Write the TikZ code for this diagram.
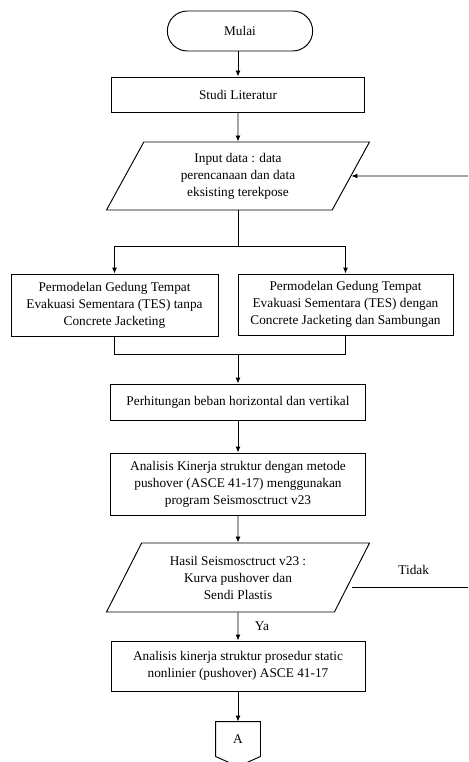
\documentclass[tikz,border=0pt]{standalone}
\usepackage{fontspec}
\setmainfont{Liberation Serif}
\usetikzlibrary{shapes.geometric,shapes.misc,arrows.meta}

\begin{document}
\begin{tikzpicture}[
		x = 1pt, y = -1pt,
		line width = 0.95pt,
		every node/.style = {
			font = \fontsize{13.3}{17}\selectfont,
			align = center
		},
		terminal/.style = {
			draw = black,
			rounded rectangle,
			minimum width = 152pt,
			minimum height = 40pt
		},
		proses/.style 2 args = {
			draw = black,
			rectangle,
			inner sep = 2pt,
			minimum width = #1,
			minimum height = #2
		},
		data/.style 2 args = {
			draw = black,
			trapezium,
			trapezium left angle = 51,
			trapezium right angle = 129,
			trapezium stretches body,
			inner sep = 0pt,
			minimum width = #1,
			minimum height = #2
		},
		panah/.style = {
			-{Latex[length = 6pt, width = 5pt]}
		}]
	\useasboundingbox (0, 0) rectangle (468, 762);
	\node[terminal] (mulai) at (240, 31) {Mulai};
	\node[proses = {253pt}{35pt}] (studi) at (238, 94.5) {Studi Literatur};
	\node[data = {263pt}{68pt}] (input) at (238, 176) {Input data : data\\perencanaan dan data\\eksisting terekpose};
	\node[proses = {207pt}{62pt}] (kiri) at (114.5, 305) {Permodelan Gedung Tempat\\Evakuasi Sementara (TES) tanpa\\Concrete Jacketing};
	\node[proses = {215pt}{61pt}] (kanan) at (345.5, 304.5) {Permodelan Gedung Tempat\\Evakuasi Sementara (TES) dengan\\Concrete Jacketing dan Sambungan};
	\node[proses = {255pt}{36pt}] (beban) at (238, 402) {Perhitungan beban horizontal dan vertikal};
	\node[proses = {255pt}{62pt}] (pushover) at (238, 484) {Analisis Kinerja struktur dengan metode\\pushover (ASCE 41-17) menggunakan\\program Seismosctruct v23};
	\node[data = {263pt}{69pt}] (hasil) at (238, 577.5) {Hasil Seismosctruct v23 :\\Kurva pushover dan\\Sendi Plastis};
	\node[proses = {254pt}{50pt}] (kinerja) at (238, 666) {Analisis kinerja struktur prosedur static\\nonlinier (pushover) ASCE 41-17};
	\node[minimum width = 44pt, minimum height = 34pt, inner sep = 0pt] (A) at (238, 739) {A};
	\draw (A.north west) -- (A.north east) -- (A.south east) -- ([yshift = -10pt]A.south) -- (A.south west) -- cycle;

	\coordinate (cabang) at (238, 246);
	\coordinate (gabung) at (238, 354);
	\coordinate (balik) at (468, 176);
	\coordinate (tidak) at (468, 587);

	\draw[panah] (mulai.south -| studi) -- (studi);
	\draw[panah] (studi) -- (input);
	\draw (input) -- (cabang);
	\draw[panah] (cabang) -| (kiri);
	\draw[panah] (cabang) -| (kanan);
	\draw (kiri) |- (gabung);
	\draw (kanan) |- (gabung);
	\draw[panah] (gabung) -- (beban);
	\draw[panah] (beban) -- (pushover);
	\draw[panah] (pushover) -- (hasil);
	\draw[panah] (hasil) -- node[right = 13pt] {Ya} (kinerja);
	\draw[panah] (kinerja) -- (A);
	\draw (hasil.east |- tidak) -- node[above = 9pt, pos = 0.53] {Tidak} (tidak);
	\draw[panah] (balik) -- (input);
\end{tikzpicture}
\end{document}
